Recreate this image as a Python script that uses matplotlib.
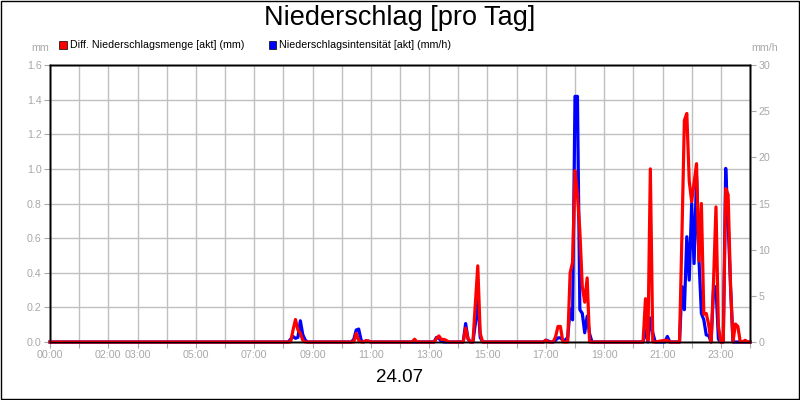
import matplotlib
matplotlib.use("Agg")
import matplotlib.pyplot as plt
from matplotlib.patches import Rectangle

plt.rcParams['font.family'] = ['Liberation Sans', 'DejaVu Sans']

# time of day (minutes since 00:00), 5-minute readings
time_min = [0, 490, 495, 500, 505, 510, 515, 520, 525, 530,
            620, 625, 630, 635, 640, 645, 650, 655, 660,
            745, 750, 755,
            790, 795, 800, 805, 810, 815, 820,
            850, 855, 860, 865, 870, 875, 880, 885, 890,
            1015, 1020, 1025, 1030, 1035, 1040, 1045, 1050, 1055, 1060, 1065,
            1070, 1075, 1080, 1085, 1090, 1095, 1100, 1105, 1110, 1115,
            1215, 1220, 1225, 1230, 1235, 1240, 1245, 1265, 1270, 1275,
            1295, 1300, 1305, 1310, 1315, 1320, 1325, 1330, 1335, 1340, 1345,
            1350, 1355, 1360, 1365, 1370, 1375, 1380, 1385, 1390, 1395, 1400,
            1405, 1410, 1415, 1420, 1425, 1430, 1435, 1440]
# Diff. Niederschlagsmenge [akt] (mm)
menge_mm = [0, 0, 0, 0.07, 0.13, 0.07, 0.05, 0.01, 0, 0,
            0, 0, 0.05, 0.01, 0, 0, 0.008, 0.005, 0,
            0, 0.016, 0,
            0, 0.02, 0.035, 0.015, 0.015, 0.01, 0,
            0, 0.08, 0.02, 0, 0, 0.22, 0.44, 0.05, 0,
            0, 0.01, 0, 0, 0, 0.03, 0.09, 0.09, 0, 0, 0,
            0.40, 0.46, 0.99, 0.85, 0.64, 0.32, 0.23, 0.37, 0, 0,
            0, 0, 0.25, 0.01, 1.0, 0, 0, 0.01, 0.01, 0,
            0, 0.62, 1.28, 1.32, 0.93, 0.81, 0.92, 1.03, 0.47, 0.80, 0.16,
            0.165, 0.10, 0, 0.35, 0.78, 0.09, 0, 0, 0.886, 0.85, 0.32,
            0, 0.104, 0.09, 0, 0, 0.01, 0, 0]
# Niederschlagsintensität [akt] (mm/h)
intensitaet_mmh = [0, 0, 0.3, 0.6, 0.4, 0.5, 2.3, 0.8, 0.2, 0,
                   0, 0.3, 1.3, 1.4, 0.2, 0, 0.1, 0.1, 0,
                   0, 0, 0,
                   0, 0.5, 0.4, 0.1, 0, 0, 0,
                   0, 2.0, 0.3, 0, 0, 2.0, 4.5, 0.5, 0,
                   0, 0.2, 0.1, 0, 0, 0.2, 0.45, 0.45, 0.2, 0.2, 0.5,
                   3.6, 2.4, 26.6, 26.6, 3.5, 3.1, 1.0, 2.8, 0.9, 0,
                   0, 0, 1.3, 0, 2.6, 1.0, 0, 0, 0.6, 0,
                   0, 6.0, 3.5, 11.4, 6.7, 15.0, 8.5, 17.9, 8.9, 3.1, 2.4,
                   0.76, 0.7, 0, 5.7, 6.0, 0.3, 0, 0, 18.8, 13.0, 6.0,
                   0, 0, 0, 0, 0, 0, 0, 0]

x_tick_hours = list(range(25))
x_label_hours = [0, 2, 3, 5, 7, 9, 11, 13, 15, 17, 19, 21, 23]
left_ticks = [0.0, 0.2, 0.4, 0.6, 0.8, 1.0, 1.2, 1.4, 1.6]
right_ticks = [0, 5, 10, 15, 20, 25, 30]

title_text = "Niederschlag [pro Tag]"
date_text = "24.07"
legend_red = "Diff. Niederschlagsmenge [akt] (mm)"
legend_blue = "Niederschlagsintensität [akt] (mm/h)"

RED = "#ff0000"
BLUE = "#0000ff"
GRAY_TXT = "#a8a8a8"
GRID = "#c0c0c0"

W, H = 800, 400
fig = plt.figure(figsize=(8, 4), dpi=100)
fig.patch.set_facecolor("white")

L, R, T, B = 50, 750, 65, 342
rect = [L / W, 1 - B / H, (R - L) / W, (B - T) / H]
ax = fig.add_axes(rect)
ax2 = ax.twinx()
ax3 = ax.twinx()

hours = [t / 60.0 for t in time_min]

# grid / left axis
ax.set_xlim(0, 24)
ax.set_ylim(0, 1.6)
ax.set_xticks(x_tick_hours)
ax.set_xticklabels(["%02d:00" % h if h in x_label_hours else "" for h in x_tick_hours])
ax.set_yticks(left_ticks)
ax.set_yticklabels(["%.1f" % v for v in left_ticks])
ax.grid(True, color=GRID, linewidth=1.0)
ax.set_axisbelow(True)
ax.tick_params(axis='both', colors=GRAY_TXT, labelsize=7.7, length=4, width=0.8, pad=2)
ax.tick_params(axis='x', pad=2)

# right axis with intensity
ax2.set_ylim(0, 30)
ax2.set_yticks(right_ticks)
ax2.set_yticklabels([str(v) for v in right_ticks])
ax2.tick_params(axis='y', colors=GRAY_TXT, labelsize=7.7, length=4, width=0.8, pad=2)
ax2.plot(hours, intensitaet_mmh, color=BLUE, linewidth=2.3, clip_on=False,
         solid_joinstyle='round')

# red series on top
ax3.set_ylim(0, 1.6)
ax3.set_yticks([])
ax3.plot(hours, menge_mm, color=RED, linewidth=2.3, clip_on=False,
         solid_joinstyle='round')

for a in (ax, ax2, ax3):
    for s in a.spines.values():
        s.set_color("black")
        s.set_linewidth(1.0)
    a.patch.set_visible(False)
ax.patch.set_visible(True)

# texts
fig.text(0.5, 1 - 18 / H, title_text, ha='center', va='center', fontsize=19.5, color='black')
fig.text(0.5, 1 - 377 / H, date_text, ha='center', va='center', fontsize=13.5, color='black')
fig.text(40 / W, 1 - 48 / H, "mm", ha='center', va='center', fontsize=7.7, color=GRAY_TXT)
fig.text(765 / W, 1 - 48 / H, "mm/h", ha='center', va='center', fontsize=7.7, color=GRAY_TXT)

# legend
for x0, col, lab in ((59, RED, legend_red), (268.5, BLUE, legend_blue)):
    fig.patches.append(Rectangle((x0 / W, 1 - 48.5 / H), 7.5 / W, 7.5 / H,
                                 transform=fig.transFigure, facecolor=col,
                                 edgecolor='black', linewidth=0.5))
    fig.text((x0 + 10.5) / W, 1 - 44.5 / H, lab, ha='left', va='center',
             fontsize=7.7, color='black')

# figure border
fig.patches.append(Rectangle((0.5 / W, 1.0 / H), 1 - 1.5 / W, 1 - 1.5 / H,
                             transform=fig.transFigure, fill=False,
                             edgecolor='black', linewidth=1.0))

fig.savefig("out.png", dpi=100)
